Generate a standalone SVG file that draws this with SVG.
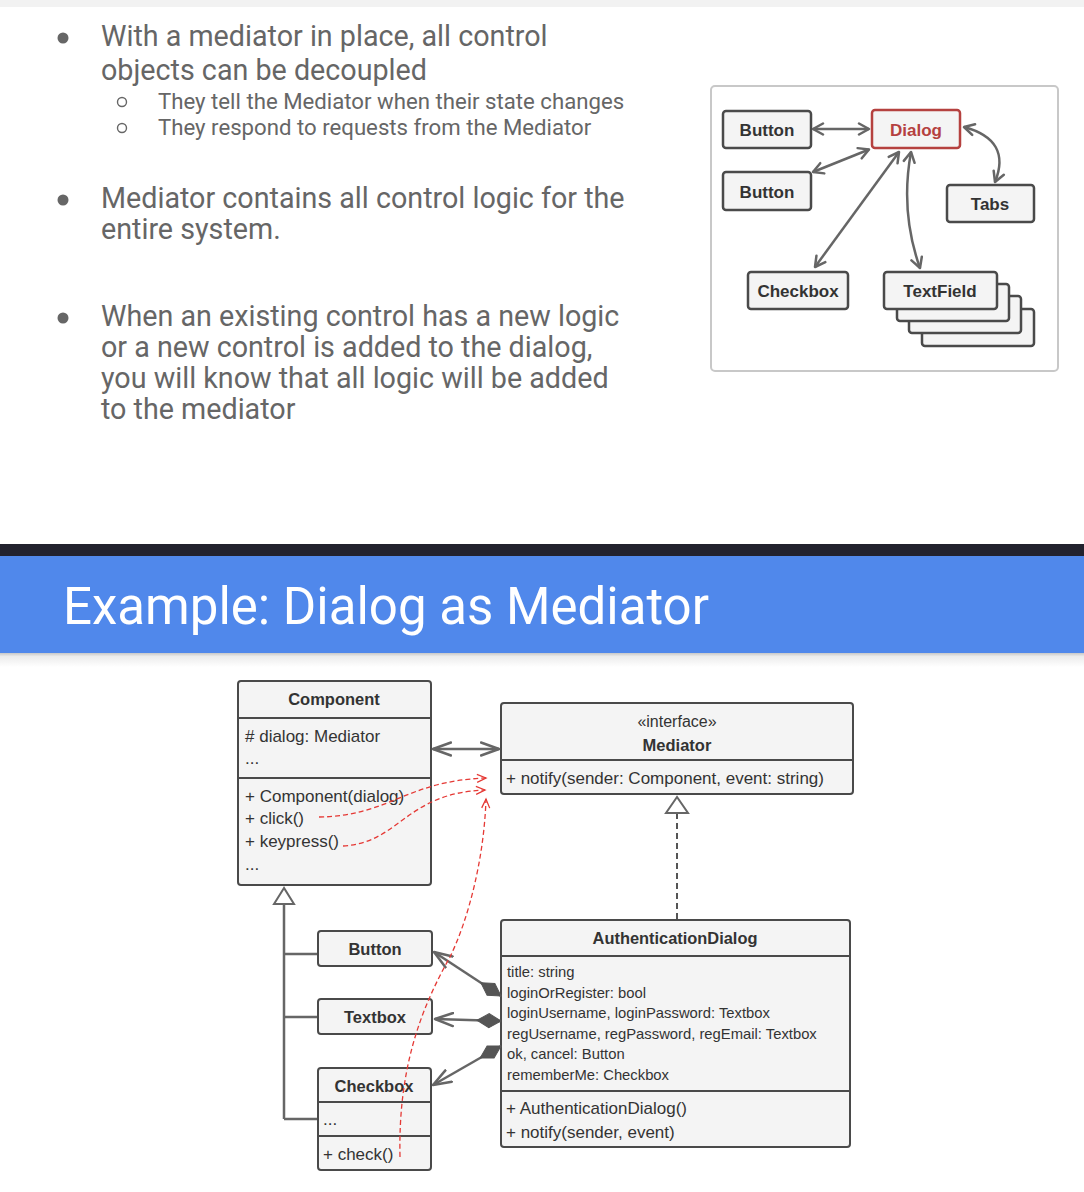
<svg xmlns="http://www.w3.org/2000/svg" width="1084" height="1192" viewBox="0 0 1084 1192">
<defs>
<style>
.slide{font-family:Roboto,"Liberation Sans",sans-serif;fill:#666}
.t{font-family:"Liberation Sans",Arial,sans-serif;fill:#333}
.b{font-weight:bold}
.box{fill:#f4f4f4;stroke:#4a4a4a;stroke-width:2.5}
.uml{fill:#f4f4f4;stroke:#4a4a4a;stroke-width:2}
.div{stroke:#4a4a4a;stroke-width:2}
.conn{stroke:#666;stroke-width:2.5;fill:none}
.red{stroke:#e53935;stroke-width:1.3;fill:none;stroke-dasharray:5 3}
</style>
<marker id="aSmall" markerUnits="userSpaceOnUse" markerWidth="14" markerHeight="14" viewBox="0 0 14 14" refX="12" refY="7" orient="auto-start-reverse">
<path d="M2,1.5 L12,7 L2,12.5" fill="none" stroke="#666" stroke-width="2.5" stroke-linecap="round" stroke-linejoin="round"/>
</marker>
<marker id="aBig" markerUnits="userSpaceOnUse" markerWidth="22" markerHeight="16" viewBox="0 0 22 16" refX="19" refY="8" orient="auto-start-reverse">
<path d="M1,1.5 L19,8 L1,14.5" fill="none" stroke="#666" stroke-width="2.5" stroke-linecap="round" stroke-linejoin="round"/>
</marker>
<marker id="dia" markerUnits="userSpaceOnUse" markerWidth="26" markerHeight="16" viewBox="0 0 26 16" refX="25" refY="8" orient="auto-start-reverse">
<path d="M1,8 L13,1 L25,8 L13,15 Z" fill="#555" stroke="#555" stroke-width="1"/>
</marker>
<marker id="aRed" markerUnits="userSpaceOnUse" markerWidth="12" markerHeight="10" viewBox="0 0 12 10" refX="10" refY="5" orient="auto">
<path d="M1,1 L10,5 L1,9" fill="none" stroke="#e53935" stroke-width="1.3"/>
</marker>
<linearGradient id="shadow" x1="0" y1="0" x2="0" y2="1">
<stop offset="0" stop-color="#c8c8c8"/>
<stop offset="0.25" stop-color="#ececec"/>
<stop offset="1" stop-color="#ffffff"/>
</linearGradient>
</defs>

<rect x="0" y="0" width="1084" height="1192" fill="#ffffff"/>
<rect x="0" y="0" width="1084" height="7" fill="#f2f2f2"/>

<!-- top slide text -->
<g id="bullets">
<circle cx="63" cy="38" r="5.5" fill="#666"/>
<text class="slide" x="101" y="46" font-size="28.7">With a mediator in place, all control</text>
<text class="slide" x="101" y="80" font-size="28.7">objects can be decoupled</text>
<circle cx="122" cy="102" r="4.5" fill="none" stroke="#666" stroke-width="1.4"/>
<text class="slide" x="158" y="109" font-size="22.2">They tell the Mediator when their state changes</text>
<circle cx="122" cy="128" r="4.5" fill="none" stroke="#666" stroke-width="1.4"/>
<text class="slide" x="158" y="135" font-size="22.2">They respond to requests from the Mediator</text>
<circle cx="63" cy="200" r="5.5" fill="#666"/>
<text class="slide" x="101" y="208" font-size="28.7">Mediator contains all control logic for the</text>
<text class="slide" x="101" y="239" font-size="28.7">entire system.</text>
<circle cx="63" cy="318" r="5.5" fill="#666"/>
<text class="slide" x="101" y="326" font-size="28.7">When an existing control has a new logic</text>
<text class="slide" x="101" y="357" font-size="28.7">or a new control is added to the dialog,</text>
<text class="slide" x="101" y="388" font-size="28.7">you will know that all logic will be added</text>
<text class="slide" x="101" y="419" font-size="28.7">to the mediator</text>
</g>

<!-- top-right mini diagram -->
<rect x="711" y="86" width="347" height="285" rx="4" fill="#fff" stroke="#c8c8c8" stroke-width="2"/>
<g id="mini-connectors">
<path class="conn" d="M813,129 L869,129" marker-start="url(#aSmall)" marker-end="url(#aSmall)"/>
<path class="conn" d="M813,172 L869,149.5" marker-start="url(#aSmall)" marker-end="url(#aSmall)"/>
<path class="conn" d="M815,267 L899,152" marker-start="url(#aSmall)" marker-end="url(#aSmall)"/>
<path class="conn" d="M911,152 Q900,212 920,268" marker-start="url(#aSmall)" marker-end="url(#aSmall)"/>
<path class="conn" d="M964,127 Q1012,140 995,182" marker-start="url(#aSmall)" marker-end="url(#aSmall)"/>
</g>
<g id="mini-button1"><rect class="box" x="723" y="111" width="88" height="37" rx="3"/><text class="t b" x="767" y="136" font-size="17" text-anchor="middle" fill="#444">Button</text></g>
<g id="mini-dialog"><rect x="872" y="110" width="88" height="38" rx="3" fill="#f4f4f4" stroke="#b5413f" stroke-width="2.5"/><text class="t b" x="916" y="136" font-size="17" text-anchor="middle" style="fill:#b5413f">Dialog</text></g>
<g id="mini-button2"><rect class="box" x="723" y="172" width="88" height="38" rx="3"/><text class="t b" x="767" y="198" font-size="17" text-anchor="middle">Button</text></g>
<g id="mini-tabs"><rect class="box" x="947" y="185" width="87" height="37" rx="3"/><text class="t b" x="990" y="210" font-size="17" text-anchor="middle">Tabs</text></g>
<g id="mini-checkbox"><rect class="box" x="748" y="272" width="100" height="37" rx="3"/><text class="t b" x="798" y="297" font-size="17" text-anchor="middle">Checkbox</text></g>
<g id="mini-textfield">
<rect class="box" x="922" y="309" width="112" height="37" rx="3"/>
<rect class="box" x="909" y="296" width="112" height="37" rx="3"/>
<rect class="box" x="897" y="284" width="112" height="37" rx="3"/>
<rect class="box" x="884" y="272" width="113" height="37" rx="3"/>
<text class="t b" x="940" y="297" font-size="17" text-anchor="middle">TextField</text>
</g>

<!-- title band -->
<rect x="0" y="544" width="1084" height="12" fill="#22222e"/>
<rect x="0" y="556" width="1084" height="97" fill="#5088eb"/>
<rect x="0" y="653" width="1084" height="14" fill="url(#shadow)"/>
<text x="63" y="624" font-family="Roboto,'Liberation Sans',sans-serif" font-size="51" fill="#ffffff">Example: Dialog as Mediator</text>

<g id="component">
<rect class="uml" x="238" y="681" width="193" height="204" rx="3"/>
<line class="div" x1="238" y1="718" x2="431" y2="718"/>
<line class="div" x1="238" y1="778" x2="431" y2="778"/>
<text class="t b" x="334" y="705" font-size="16.5" text-anchor="middle">Component</text>
<text class="t" x="245" y="742" font-size="17"># dialog: Mediator</text>
<text class="t" x="245" y="764" font-size="17">...</text>
<text class="t" x="245" y="802" font-size="17">+ Component(dialog)</text>
<text class="t" x="245" y="824" font-size="17">+ click()</text>
<text class="t" x="245" y="847" font-size="17">+ keypress()</text>
<text class="t" x="245" y="870" font-size="17">...</text>
</g>

<g id="mediator">
<rect class="uml" x="501" y="703" width="352" height="91" rx="3"/>
<line class="div" x1="501" y1="760" x2="853" y2="760"/>
<text class="t" x="677" y="727" font-size="16" text-anchor="middle">«interface»</text>
<text class="t b" x="677" y="751" font-size="16.5" text-anchor="middle">Mediator</text>
<text class="t" x="506" y="784" font-size="17">+ notify(sender: Component, event: string)</text>
</g>

<g id="authdialog">
<rect class="uml" x="501" y="920" width="349" height="227" rx="3"/>
<line class="div" x1="501" y1="956" x2="850" y2="956"/>
<line class="div" x1="501" y1="1091" x2="850" y2="1091"/>
<text class="t b" x="675" y="944" font-size="16.4" text-anchor="middle">AuthenticationDialog</text>
<text class="t" x="507" y="977" font-size="14.8">title: string</text>
<text class="t" x="507" y="998" font-size="14.8">loginOrRegister: bool</text>
<text class="t" x="507" y="1018" font-size="14.8">loginUsername, loginPassword: Textbox</text>
<text class="t" x="507" y="1039" font-size="14.8">regUsername, regPassword, regEmail: Textbox</text>
<text class="t" x="507" y="1059" font-size="14.8">ok, cancel: Button</text>
<text class="t" x="507" y="1080" font-size="14.8">rememberMe: Checkbox</text>
<text class="t" x="506" y="1114" font-size="17">+ AuthenticationDialog()</text>
<text class="t" x="506" y="1138" font-size="17">+ notify(sender, event)</text>
</g>

<g id="button">
<rect class="uml" x="318" y="931" width="114" height="35" rx="3"/>
<text class="t b" x="375" y="955" font-size="16.5" text-anchor="middle">Button</text>
</g>
<g id="textbox">
<rect class="uml" x="318" y="999" width="114" height="35" rx="3"/>
<text class="t b" x="375" y="1023" font-size="16.5" text-anchor="middle">Textbox</text>
</g>
<g id="checkbox">
<rect class="uml" x="318" y="1068" width="113" height="102" rx="3"/>
<line class="div" x1="318" y1="1102" x2="431" y2="1102"/>
<line class="div" x1="318" y1="1136" x2="431" y2="1136"/>
<text class="t b" x="374" y="1092" font-size="16.5" text-anchor="middle">Checkbox</text>
<text class="t" x="323" y="1125" font-size="17">...</text>
<text class="t" x="323" y="1160" font-size="17">+ check()</text>
</g>

<!-- UML connectors -->
<g id="uml-connectors">
<path class="conn" d="M433,749 H499" marker-start="url(#aBig)" marker-end="url(#aBig)"/>
<path d="M677,813 V919" stroke="#555" stroke-width="2" stroke-dasharray="6 4" fill="none"/>
<polygon points="677,797 666,813 688,813" fill="#fff" stroke="#666" stroke-width="2"/>
<path d="M284,904 V1119 M284,954 H317 M284,1017 H317 M284,1119 H317" stroke="#666" stroke-width="2.5" fill="none"/>
<polygon points="284,888 274,904 294,904" fill="#fff" stroke="#666" stroke-width="2"/>
<path class="conn" d="M501,996 L434,952" marker-start="url(#dia)" marker-end="url(#aBig)"/>
<path class="conn" d="M501,1021 L435,1019" marker-start="url(#dia)" marker-end="url(#aBig)"/>
<path class="conn" d="M501,1046 L433,1085" marker-start="url(#dia)" marker-end="url(#aBig)"/>
<path class="red" d="M319,817 C390,816 405,781 486,778" marker-end="url(#aRed)"/>
<path class="red" d="M343,846 C400,843 405,793 485,790" marker-end="url(#aRed)"/>
<path class="red" d="M400,1157 C398,1070 420,1010 450,957 C468,920 484,860 486,799" marker-end="url(#aRed)"/>
</g>
</svg>
